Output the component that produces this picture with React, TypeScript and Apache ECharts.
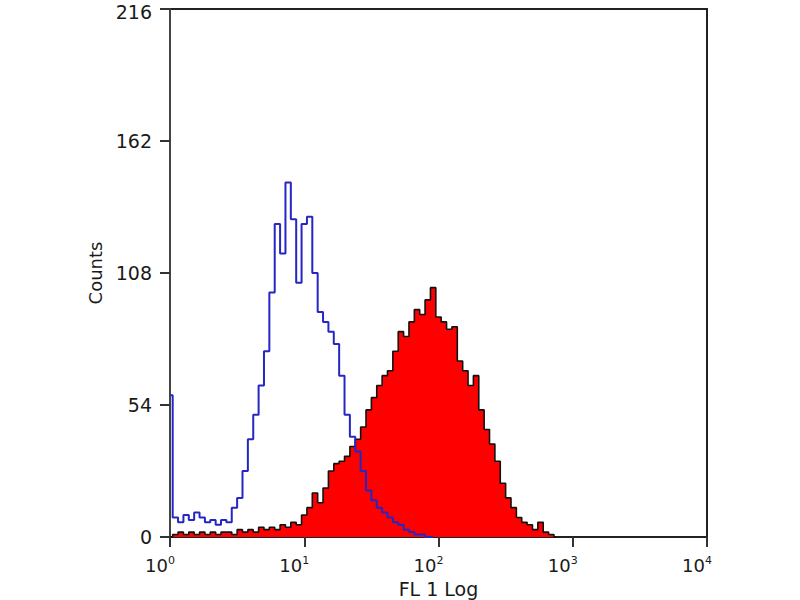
import React, { useEffect, useRef } from "react";
import * as echarts from "echarts";

// Histogram bins: log-spaced channels, BIN_STEP decades apart, starting at 10^0
const BIN_STEP = 0.04;

// Isotype control (blue outline)
const blueCounts = [
  58, 8, 6, 9, 7, 10, 8, 6, 7, 5,
  7, 6, 12, 16, 27, 40, 50, 62, 76, 100,
  128, 116, 145, 130, 104, 128, 131, 108, 92, 88,
  84, 79, 66, 50, 41, 35, 27, 19, 15, 12,
  10, 8, 6, 5, 3, 2, 1, 1, 0, 0,
];

// Stained sample (red filled, black outline)
const redCounts = [
  0, 1, 2, 1, 2, 1, 2, 1, 2, 1,
  2, 2, 1, 3, 2, 3, 2, 4, 3, 4,
  3, 5, 4, 6, 5, 9, 12, 18, 14, 20,
  27, 30, 31, 33, 37, 40, 45, 52, 57, 62,
  66, 68, 76, 84, 82, 88, 93, 91, 97, 102,
  90, 88, 85, 86, 72, 68, 62, 66, 52, 44,
  38, 31, 22, 16, 12, 8, 6, 5, 3, 6,
  2, 1, 0,
];

const yTicks = [0, 54, 108, 162, 216];
const xDecades = [0, 1, 2, 3, 4];

const FONT = "DejaVu Sans, Verdana, sans-serif";
const TEXT = "#1a1a1a";

const toPoints = (arr: number[]) =>
  arr.map((c, i) => [Math.pow(10, i * BIN_STEP), c]);

export default function App() {
  const ref = useRef<HTMLDivElement>(null);
  useEffect(() => {
    if (!ref.current) return;
    const chart = echarts.init(ref.current, undefined, { renderer: "svg" });
    const yMax = yTicks[yTicks.length - 1];
    chart.setOption({
      animation: false,
      backgroundColor: "#ffffff",
      grid: {
        left: 170,
        right: 93,
        top: 9,
        bottom: 63,
        outerBoundsMode: "none",
        containLabel: false,
        show: true,
        borderColor: "#222",
        borderWidth: 2,
        backgroundColor: "transparent",
      },
      xAxis: {
        type: "log",
        logBase: 10,
        min: Math.pow(10, xDecades[0]),
        max: Math.pow(10, xDecades[xDecades.length - 1]),
        name: "FL 1 Log",
        nameLocation: "middle",
        nameGap: 34,
        nameTextStyle: { fontSize: 19, color: TEXT, fontFamily: FONT },
        axisLine: { show: true, lineStyle: { color: "#222", width: 2 } },
        axisTick: { show: true, length: 10, lineStyle: { color: "#333", width: 2 } },
        minorTick: { show: false },
        splitLine: { show: false },
        axisLabel: {
          margin: 18,
          color: TEXT,
          padding: [0, 20, 0, 0],
          formatter: (v: number) => {
            const e = Math.round(Math.log10(v));
            return `{base|10}{sup|${e}}`;
          },
          rich: {
            base: { fontSize: 18, fontFamily: FONT, color: TEXT },
            sup: { fontSize: 11, fontFamily: FONT, color: TEXT, padding: [0, 0, 10, 0] },
          },
        },
      },
      yAxis: {
        type: "value",
        min: yTicks[0],
        max: yMax,
        interval: yTicks[1] - yTicks[0],
        name: "Counts",
        nameLocation: "middle",
        nameGap: 66,
        nameTextStyle: { fontSize: 18, color: TEXT, fontFamily: FONT },
        axisLine: { show: true, lineStyle: { color: "#444", width: 2 } },
        axisTick: { show: true, length: 10, lineStyle: { color: "#333", width: 2 } },
        splitLine: { show: false },
        axisLabel: {
          margin: 18,
          color: TEXT,
          formatter: (v: number) => (v === yMax ? `{top|${v}}` : `{n|${v}}`),
          rich: {
            n: { fontSize: 19, fontFamily: FONT, color: TEXT },
            top: { fontSize: 19, fontFamily: FONT, color: TEXT, padding: [6, 0, 0, 0] },
          },
        },
      },
      series: [
        {
          type: "line",
          name: "stained",
          data: toPoints(redCounts),
          step: "middle",
          symbol: "none",
          lineStyle: { color: "#111", width: 1.6 },
          areaStyle: { color: "#ff0000", opacity: 1 },
          z: 2,
        },
        {
          type: "line",
          name: "control",
          data: toPoints(blueCounts),
          step: "middle",
          symbol: "none",
          lineStyle: { color: "#2626c4", width: 2 },
          z: 3,
        },
      ],
    });
    return () => chart.dispose();
  }, []);
  return (
    <div
      ref={ref}
      style={{ position: "fixed", left: 0, top: 0, width: 800, height: 600 }}
    />
  );
}
